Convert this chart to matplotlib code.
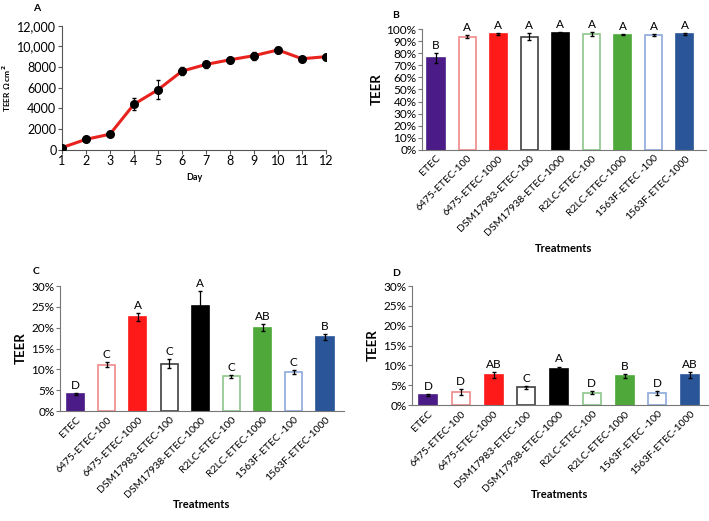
import numpy as np
import matplotlib
matplotlib.use("Agg")
import matplotlib.pyplot as plt
from matplotlib.ticker import FuncFormatter

plt.rcParams['font.family'] = ['Lato', 'DejaVu Sans']

# panel A data
days = [1, 2, 3, 4, 5, 6, 7, 8, 9, 10, 11, 12]
teer_a = [200, 1000, 1500, 4400, 5800, 7600, 8250, 8700, 9100, 9650, 8800, 9000]
err_a = [60, 120, 120, 600, 900, 400, 300, 300, 400, 300, 150, 100]

treatments = ['ETEC', '6475-ETEC-100', '6475-ETEC-1000', 'DSM17983-ETEC-100',
              'DSM17938-ETEC-1000', 'R2LC-ETEC-100', 'R2LC-ETEC-1000',
              '1563F-ETEC -100', '1563F-ETEC-1000']

# percentages
teer_b = [76, 94, 96, 94, 97, 96, 95.5, 95.5, 96]
err_b = [4, 1, 0.5, 3, 1, 1.5, 0.5, 0.8, 0.8]
let_b = ['B', 'A', 'A', 'A', 'A', 'A', 'A', 'A', 'A']

teer_c = [4.1, 11.1, 22.6, 11.4, 25.1, 8.3, 20.0, 9.4, 17.8]
err_c = [0.3, 0.6, 0.9, 1.0, 3.6, 0.4, 0.8, 0.4, 0.7]
let_c = ['D', 'C', 'A', 'C', 'A', 'C', 'AB', 'C', 'B']

teer_d = [2.6, 3.3, 7.6, 4.5, 9.1, 3.1, 7.4, 3.1, 7.6]
err_d = [0.2, 0.7, 0.8, 0.4, 0.6, 0.4, 0.5, 0.5, 0.7]
let_d = ['D', 'D', 'AB', 'C', 'A', 'D', 'B', 'D', 'AB']

faces = ['#4B1C87', 'white', '#FF1A1A', 'white', '#000000', 'white', '#4EA83A', 'white', '#2A5699']
edges = ['#4B1C87', '#F08A8A', '#FF1A1A', '#404040', '#000000', '#8CC68A', '#4EA83A', '#8EA9DB', '#2A5699']

fig = plt.figure(figsize=(7.09, 5.21), dpi=100)

# ---- A
ax = fig.add_axes([0.0874, 0.7127, 0.3724, 0.238])
ax.errorbar(days, teer_a, yerr=err_a, color='#E8231E', lw=2.2, marker='o', ms=5.5,
            mfc='black', mec='black', ecolor='black', elinewidth=0.8, capsize=1.5, zorder=3)
ax.set_xlim(1, 12)
ax.set_ylim(0, 12000)
ax.set_xticks(days)
ax.set_yticks(range(0, 12001, 2000))
ax.yaxis.set_major_formatter(FuncFormatter(lambda v, p: f'{int(v):,}' if v >= 10000 else f'{int(v)}'))
for s in ['top', 'right']:
    ax.spines[s].set_visible(False)
for s in ['left', 'bottom']:
    ax.spines[s].set_color('#555555')
ax.tick_params(labelsize=9, length=3, color='#555555', pad=1)
ax.set_xlabel('Day', fontsize=6.5, fontweight='bold', labelpad=4)
ax.set_ylabel('TEER Ω cm$^\\mathbf{2}$', fontsize=6, fontweight='bold', labelpad=3)
fig.text(0.046, 0.984, 'A', fontsize=7.5, fontweight='bold', va='center')


def bars(rect, vals, errs, letters, ymax, step, xlim, xpad):
    ax = fig.add_axes(rect)
    x = np.arange(len(vals))
    ax.bar(x, vals, width=0.55, color=faces, edgecolor=edges, linewidth=1.2, zorder=2)
    ax.errorbar(x, vals, yerr=errs, fmt='none', ecolor='black', elinewidth=0.9,
                capsize=1.2, zorder=3)
    for xi, v, e, l in zip(x, vals, errs, letters):
        ax.annotate(l, (xi, v + e), xytext=(0, 1.5), textcoords='offset points',
                    ha='center', va='bottom', fontsize=8.5)
    ax.set_xlim(*xlim)
    ax.set_ylim(0, ymax)
    ax.set_yticks(np.arange(0, ymax + 0.01, step))
    ax.yaxis.set_major_formatter(FuncFormatter(lambda v, p: f'{v:.0f}%'))
    ax.set_xticks(x)
    ax.set_xticklabels(treatments, rotation=45, ha='right', rotation_mode='anchor')
    for s in ['top', 'right']:
        ax.spines[s].set_visible(False)
    for s in ['left', 'bottom']:
        ax.spines[s].set_color('#777777')
    ax.tick_params(axis='y', labelsize=8.5, length=3, color='#777777', pad=1)
    ax.tick_params(axis='x', labelsize=7.5, length=0, pad=3)
    ax.set_ylabel('TEER', fontsize=9.5, fontweight='bold', labelpad=3)
    ax.set_xlabel('Treatments', fontsize=8, fontweight='bold', labelpad=xpad)
    return ax


bars([0.5952, 0.7127, 0.4006, 0.2311], teer_b, err_b, let_b, 100, 10, (-0.45, 8.68), 4)
fig.text(0.553, 0.971, 'B', fontsize=7.5, fontweight='bold', va='center')

bars([0.0846, 0.2111, 0.4006, 0.2399], teer_c, err_c, let_c, 30, 5, (-0.5, 8.61), 0)
fig.text(0.046, 0.478, 'C', fontsize=7.5, fontweight='bold', va='center')

bars([0.5811, 0.2226, 0.4175, 0.2284], teer_d, err_d, let_d, 30, 5, (-0.49, 8.55), -3)
fig.text(0.553, 0.476, 'D', fontsize=7.5, fontweight='bold', va='center')

fig.savefig('out.png', dpi=100)
